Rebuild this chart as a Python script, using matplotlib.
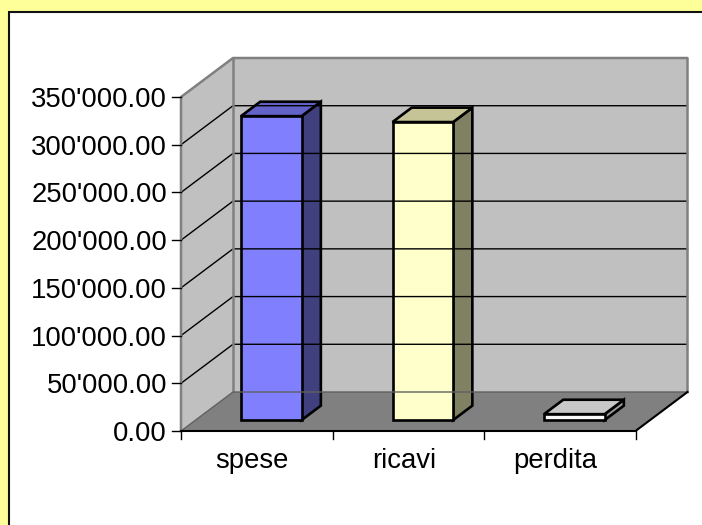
import matplotlib
matplotlib.use("Agg")
import matplotlib.pyplot as plt
from matplotlib.patches import Polygon, Rectangle

plt.rcParams["font.family"] = ["Liberation Sans", "DejaVu Sans"]

categories = ["spese", "ricavi", "perdita"]
values = [318500, 312300, 6200]
front_colors = ["#8080FF", "#FFFFCC", "#FAFAFA"]
top_colors = ["#6262C8", "#C4C496", "#C8C8C8"]
side_colors = ["#40407F", "#808062", "#9A9A9A"]
y_ticks = [0, 50000, 100000, 150000, 200000, 250000, 300000, 350000]

# pixel geometry of the 3d box
X0, CAT = 181, 151.5           # px of category 0, px per category
Y0, PXK = 431, (431 - 97) / 350.0  # px of value 0, px per 1000
W, H = 702, 525
DX = 52 / CAT                  # depth offset in category units
DY = 39 / PXK * 1000           # depth offset in value units
VMAX = 350000


def P(c, v, d=0.0):
    return (c + d * DX, v + d * DY)


fig = plt.figure(figsize=(W / 100, H / 100), dpi=100)
fig.patch.set_facecolor("#FFFF99")
fig.patches.append(Rectangle((9 / W, -0.1), 1.2, (H - 12) / H + 0.1,
                             transform=fig.transFigure, facecolor="white",
                             edgecolor="#111111", lw=1.5, zorder=-10))

ax = fig.add_axes([0, 0, 1, 1])
ax.set_xlim(-X0 / CAT, (W - X0) / CAT)
ax.set_ylim((Y0 - H) / PXK * 1000, Y0 / PXK * 1000)
ax.axis("off")
ax.patch.set_alpha(0)

n = len(categories)

# walls and floor
floor = [P(0, 0, 0), P(n, 0, 0), P(n, 0, 1), P(0, 0, 1)]
side = [P(0, 0, 0), P(0, VMAX, 0), P(0, VMAX, 1), P(0, 0, 1)]
back = [P(0, 0, 1), P(n, 0, 1), P(n, VMAX, 1), P(0, VMAX, 1)]
ax.add_patch(Polygon(floor, closed=True, facecolor="#808080", edgecolor="none"))
ax.add_patch(Polygon(side, closed=True, facecolor="#C0C0C0", edgecolor="none"))
ax.add_patch(Polygon(back, closed=True, facecolor="#C0C0C0", edgecolor="none"))

# gridlines
for v in y_ticks[1:-1]:
    pts = [P(0, v, 0), P(0, v, 1), P(n, v, 1)]
    ax.plot([p[0] for p in pts], [p[1] for p in pts], color="black", lw=1)

# wall outlines
outline = [P(0, 0, 0), P(0, VMAX, 0), P(0, VMAX, 1), P(n, VMAX, 1), P(n, 0, 1)]
ax.plot([p[0] for p in outline], [p[1] for p in outline], color="#808080", lw=1.8)
pts = [P(0, 0, 1), P(0, VMAX, 1)]
ax.plot([p[0] for p in pts], [p[1] for p in pts], color="#808080", lw=1.8)
pts = [P(0, 0, 0), P(0, 0, 1), P(n, 0, 1)]
ax.plot([p[0] for p in pts], [p[1] for p in pts], color="#606060", lw=1)
pts = [P(0, 0, 0), P(n, 0, 0), P(n, 0, 1)]
ax.plot([p[0] for p in pts], [p[1] for p in pts], color="black", lw=1.5)

# y axis ticks and labels
tick_len = 9 / CAT
for v in y_ticks:
    ax.plot([-tick_len, 0], [v, v], color="black", lw=1)
    label = f"{v:,.2f}".replace(",", "'")
    ax.text(-14 / CAT, v - 10 / PXK * 1000, label, ha="right", va="baseline",
            fontsize=19.8)

# x axis ticks and labels
for i in range(n + 1):
    ax.plot([i, i], [0, -8 / PXK * 1000], color="black", lw=1)
for i, cat in enumerate(categories):
    ax.text(i + 0.47, -37 / PXK * 1000, cat, ha="center", va="baseline", fontsize=19.8)

# bars
hw, d0, d1 = 0.2, 0.28, 0.65
for i, v in enumerate(values):
    c = i + 0.5
    front = [P(c - hw, 0, d0), P(c + hw, 0, d0), P(c + hw, v, d0), P(c - hw, v, d0)]
    right = [P(c + hw, 0, d0), P(c + hw, 0, d1), P(c + hw, v, d1), P(c + hw, v, d0)]
    top = [P(c - hw, v, d0), P(c + hw, v, d0), P(c + hw, v, d1), P(c - hw, v, d1)]
    for poly, col in ((right, side_colors[i]), (top, top_colors[i]), (front, front_colors[i])):
        ax.add_patch(Polygon(poly, closed=True, facecolor=col, edgecolor="black",
                             lw=1.9, joinstyle="miter"))

fig.savefig("out.png", dpi=100, facecolor=fig.get_facecolor())
